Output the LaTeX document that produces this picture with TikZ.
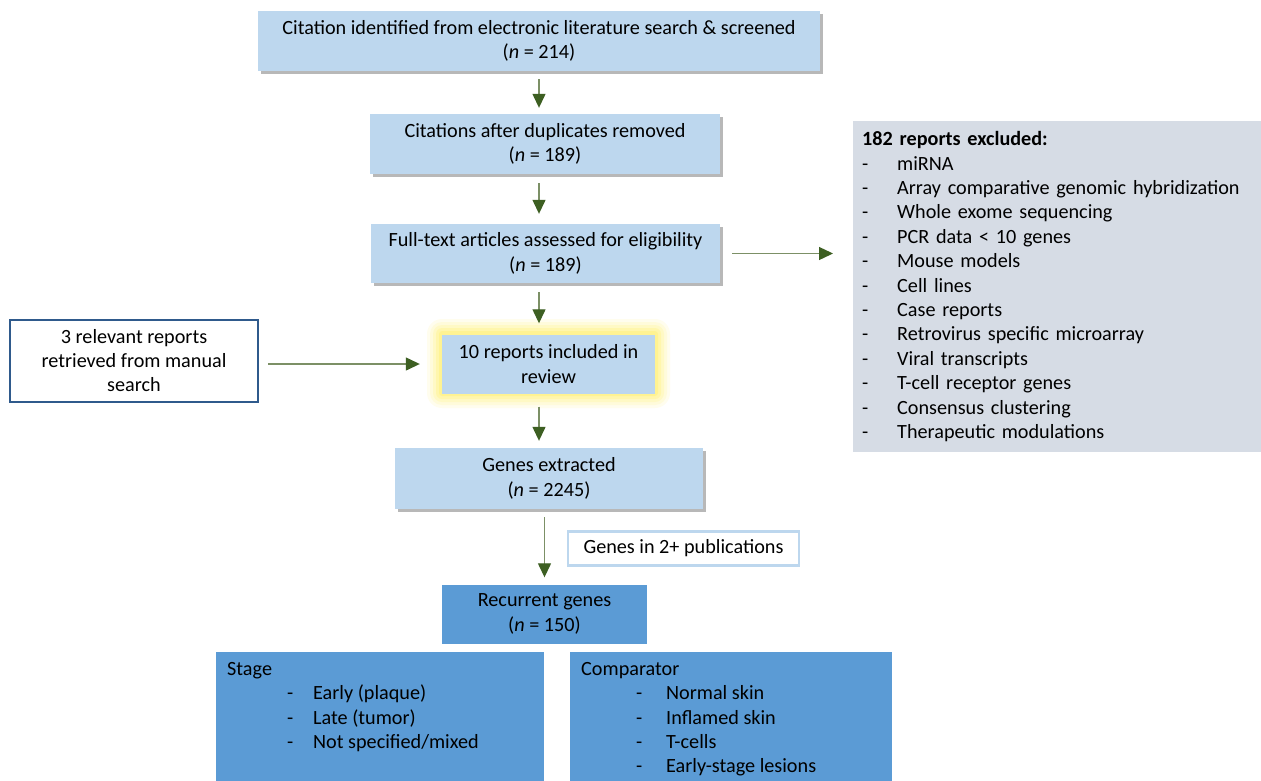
\documentclass[tikz,border=0pt]{standalone}
\usepackage{fontspec}
\setmainfont{Carlito}
\usepackage{tikz}
\usetikzlibrary{arrows.meta, positioning, calc, shadows}
\definecolor{paleA}{HTML}{BDD7EE}
\definecolor{blueA}{HTML}{5B9BD5}
\definecolor{grayA}{HTML}{D6DCE5}
\definecolor{navyA}{HTML}{2F5A8C}
\definecolor{greenA}{HTML}{3D5F22}
\definecolor{greenB}{HTML}{7C9066}
\definecolor{glowA}{HTML}{FFF27A}
\newcommand{\mainsize}{\fontsize{20.2}{24.4}\selectfont}
\newcommand{\dashitem}[3]{\hspace*{#1}\makebox[#2][l]{-}#3}
\tikzset{
  flow/.style={
    fill=paleA, align=center, inner sep=0pt, font=\mainsize,
    drop shadow={shadow xshift=2.5pt, shadow yshift=-2.5pt, fill=black, opacity=0.28}
  },
  flat/.style={fill=paleA, align=center, inner sep=0pt, font=\mainsize},
  dark/.style={fill=blueA, align=center, inner sep=0pt, font=\mainsize},
  panel/.style={fill=blueA, align=left, inner xsep=11pt, inner ysep=10pt,
    font=\mainsize, anchor=north west},
  outline/.style={draw=#1, fill=white, align=center, inner sep=0pt, font=\mainsize},
  arrow/.style={-{Triangle[length=14pt, width=13pt, color=greenA]},
    draw=greenB, line width=1.3pt, shorten <=9pt, shorten >=6pt}
}

\begin{document}
\begin{tikzpicture}[x=1pt, y=-1pt]
  \useasboundingbox (0,0) rectangle (1261,780);
  \fill[white] (0,0) rectangle (1261,780);

  % soft yellow halo behind the included box
  \foreach \g/\o in {15/0.12, 12/0.16, 9/0.22, 6/0.32, 3/0.5} {
    \fill[glowA, opacity=\o, rounded corners=\g pt]
      (548.5-106.5-\g, 363.5-29.5-\g) rectangle (548.5+106.5+\g, 363.5+29.5+\g);
  }

  \node[flow, minimum width=562pt, minimum height=60pt] (cite) at (539,41)
    {Citation identified from electronic literature search \& screened\\(\textit{n} = 214)};
  \node[flow, minimum width=350pt, minimum height=60pt] (dup) at (545,144)
    {Citations after duplicates removed\\(\textit{n} = 189)};
  \node[flow, minimum width=349pt, minimum height=59pt] (full) at (545.5,253.5)
    {Full-text articles assessed for eligibility\\(\textit{n} = 189)};
  \node[flat, minimum width=213pt, minimum height=59pt] (incl) at (548.5,364)
    {10 reports included in\\review};
  \node[flow, minimum width=308pt, minimum height=61pt] (genes) at (549,478.5)
    {Genes extracted\\(\textit{n} = 2245)};
  \node[outline=paleA, line width=2.5pt, minimum width=231pt, minimum height=34pt] (pubs)
    at (683.5,548.5) {Genes in 2+ publications};
  \node[dark, minimum width=205pt, minimum height=59pt] (recur) at (544.5,614)
    {Recurrent genes\\(\textit{n} = 150)};

  \node[outline=navyA, line width=2pt, minimum width=248pt, minimum height=82pt] (manual)
    at (134,360.5) {3 relevant reports\\retrieved from manual\\search};

  \node[fill=grayA, align=left, anchor=north west, inner xsep=9pt, inner ysep=0pt,
    text width=400pt, minimum height=331pt, font=\mainsize] (excl) at (853,121)
    {\textbf{182 reports excluded:}\\
     \dashitem{0pt}{35pt}{miRNA}\\
     \dashitem{0pt}{35pt}{Array comparative genomic hybridization}\\
     \dashitem{0pt}{35pt}{Whole exome sequencing}\\
     \dashitem{0pt}{35pt}{PCR data < 10 genes}\\
     \dashitem{0pt}{35pt}{Mouse models}\\
     \dashitem{0pt}{35pt}{Cell lines}\\
     \dashitem{0pt}{35pt}{Case reports}\\
     \dashitem{0pt}{35pt}{Retrovirus specific microarray}\\
     \dashitem{0pt}{35pt}{Viral transcripts}\\
     \dashitem{0pt}{35pt}{T-cell receptor genes}\\
     \dashitem{0pt}{35pt}{Consensus clustering}\\
     \dashitem{0pt}{35pt}{Therapeutic modulations}};

  \node[panel] (stage) at (216,652)
    {\parbox[t][130pt][t]{306pt}{Stage\\
     \dashitem{60pt}{26pt}{Early (plaque)}\\
     \dashitem{60pt}{26pt}{Late (tumor)}\\
     \dashitem{60pt}{26pt}{Not specified/mixed}}};
  \node[panel] (comp) at (570,652)
    {\parbox[t][130pt][t]{300pt}{Comparator\\
     \dashitem{55pt}{30pt}{Normal skin}\\
     \dashitem{55pt}{30pt}{Inflamed skin}\\
     \dashitem{55pt}{30pt}{T-cells}\\
     \dashitem{55pt}{30pt}{Early-stage lesions}}};

  \draw[arrow, shorten <=8pt, shorten >=6pt] (cite.south) -- (cite.south |- dup.north);
  \draw[arrow, shorten >=10pt] (dup.south -| cite.south) -- (full.north -| cite.south);
  \draw[arrow, shorten >=11pt] (full.south -| cite.south) -- (incl.north -| cite.south);
  \draw[arrow, shorten <=13pt, shorten >=7pt] (incl.south -| cite.south) -- (genes.north -| cite.south);
  \draw[arrow, shorten <=8pt, shorten >=7pt] (genes.south -| recur.north) -- (recur.north);
  \draw[arrow, shorten <=12pt, shorten >=20pt] (full.east) -- (full.east -| excl.west);
  \draw[arrow, shorten <=9pt, shorten >=22pt] (manual.east |- incl.west) -- (incl.west);
\end{tikzpicture}
\end{document}
